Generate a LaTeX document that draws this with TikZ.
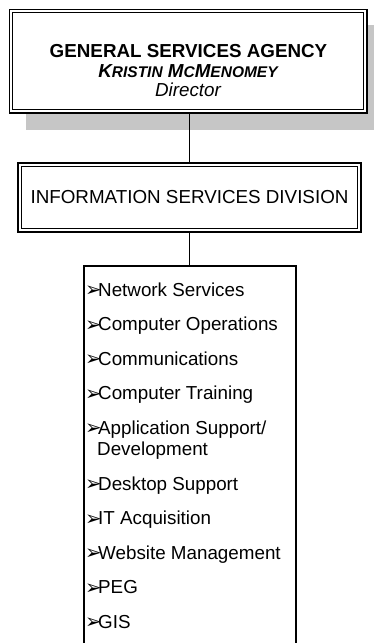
\documentclass[tikz,border=0pt]{standalone}
\usepackage{fontspec}
\setmainfont{Liberation Sans}
\newfontfamily\dejavu{DejaVu Sans}
\usetikzlibrary{backgrounds}
\definecolor{shadowgray}{RGB}{198,198,198}
\newcommand{\bigf}{\fontsize{18.8pt}{22pt}\selectfont}
\newcommand{\bul}{\makebox[13pt][l]{\dejavu\fontsize{20pt}{20pt}\selectfont\raisebox{-0.5pt}{➢}}}
\newcommand{\smc}[1]{{\fontsize{15.5pt}{18pt}\selectfont #1}}
\begin{document}
\begin{tikzpicture}[x=1pt,y=-1pt,
  boxline/.style={draw=black,line width=1.2pt,fill=white,inner sep=0pt},
  innerline/.style={draw=black,line width=0.9pt},
  conn/.style={draw=black,line width=1.3pt},
  txt/.style={inner sep=0pt,anchor=base,font=\bigf},
  item/.style={inner sep=0pt,anchor=base west,font=\bigf}]
\clip (0,0) rectangle (374,643);
% top box
\node[boxline, minimum width=357.5pt, minimum height=103.5pt] (gsa) at (188.25,61.25) {};
\draw[innerline] ([shift={(3.8,3.8)}]gsa.north west) rectangle ([shift={(-3.8,-3.8)}]gsa.south east);
\begin{scope}[on background layer]
  \fill[white] (0,0) rectangle (374,643);
  \fill[shadowgray] ([shift={(17,16)}]gsa.north west) rectangle ([shift={(17,16)}]gsa.south east);
\end{scope}
\node[txt, font=\bigf\bfseries] (t1) at (188.5,57) {GENERAL SERVICES AGENCY};
\node[txt, font=\bigf\bfseries\itshape] (t2) at (188,77) {K\smc{RISTIN} M\smc{C}M\smc{ENOMEY}};
\node[txt, font=\bigf\itshape] (t3) at (188,96) {Director};
% division box
\node[boxline, minimum width=343pt, minimum height=69pt] (isd) at (189.5,197.5) {};
\draw[innerline] ([shift={(3.8,3.8)}]isd.north west) rectangle ([shift={(-3.8,-3.8)}]isd.south east);
\node[txt] (t4) at (189.5,203.5) {INFORMATION SERVICES DIVISION};
% list box
\node[boxline, minimum width=212pt, minimum height=414pt] (lst) at (190,473) {};
% connectors
\draw[conn] (isd.north) -- (isd.north |- gsa.south);
\draw[conn] (isd.south) -- (isd.south |- lst.north);
% items
\node[item] (i1) at (85,296) {\bul Network Services};
\node[item] (i2) at (85,330.5) {\bul Computer Operations};
\node[item] (i3) at (85,365) {\bul Communications};
\node[item] (i4) at (85,399.5) {\bul Computer Training};
\node[item] (i5) at (85,434) {\bul Application Support/};
\node[item] (i5b) at (97,455.6) {Development};
\node[item] (i6) at (85,490.1) {\bul Desktop Support};
\node[item] (i7) at (85,524.6) {\bul IT Acquisition};
\node[item] (i8) at (85,559.1) {\bul Website Management};
\node[item] (i9) at (85,593.6) {\bul PEG};
\node[item] (i10) at (85,628.1) {\bul GIS};
\end{tikzpicture}
\end{document}
